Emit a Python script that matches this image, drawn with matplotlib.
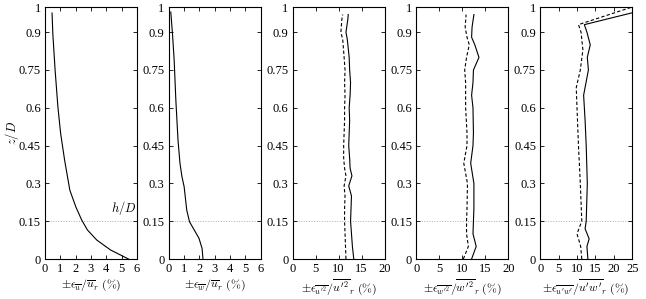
import matplotlib

matplotlib.use("Agg")
import matplotlib.pyplot as plt

plt.rcParams["font.family"] = ["Liberation Serif", "DejaVu Serif"]
plt.rcParams["mathtext.fontset"] = "cm"

# panel 1: mean u uncertainty
u_z = [0.0, 0.036, 0.075, 0.115, 0.155, 0.207, 0.273, 0.392, 0.498, 0.604, 0.749, 0.894, 0.976]
u_err = [5.44, 4.27, 3.38, 2.77, 2.39, 2.01, 1.62, 1.28, 1.02, 0.84, 0.66, 0.51, 0.46]

# panel 2: mean w uncertainty
w_z = [0.0, 0.042, 0.082, 0.115, 0.148, 0.194, 0.287, 0.326, 0.379, 0.472, 0.63, 0.789, 0.894, 0.98]
w_err = [2.23, 2.17, 1.97, 1.66, 1.35, 1.17, 1.0, 0.86, 0.73, 0.6, 0.46, 0.35, 0.24, 0.13]

# panel 3: u'^2
uu_z = [0.0, 0.05, 0.1, 0.15, 0.2, 0.25, 0.29, 0.33, 0.36, 0.4, 0.45, 0.5, 0.55, 0.6, 0.65, 0.7, 0.75, 0.8, 0.87, 0.9, 0.95, 0.97]
uu_solid = [13.3, 13.0, 12.8, 12.6, 12.7, 12.8, 12.2, 12.9, 12.5, 12.4, 12.2, 12.3, 12.4, 12.3, 12.5, 12.6, 12.4, 12.3, 11.9, 11.6, 12.0, 12.1]
uu_dash = [11.6, 11.5, 11.4, 11.3, 11.3, 11.4, 11.2, 11.6, 11.3, 11.1, 11.1, 11.2, 11.3, 11.3, 11.4, 11.3, 11.4, 11.2, 10.9, 10.5, 10.7, 10.9]

# panel 4: w'^2
ww_z = [0.0, 0.05, 0.1, 0.15, 0.2, 0.3, 0.38, 0.45, 0.5, 0.6, 0.65, 0.7, 0.75, 0.8, 0.85, 0.88, 0.92, 0.97]
ww_solid = [12.0, 13.0, 12.3, 12.4, 12.5, 12.5, 11.8, 12.3, 12.4, 12.3, 12.0, 12.3, 12.4, 13.6, 12.7, 12.0, 12.1, 12.5]
ww_dash = [10.2, 11.3, 10.9, 10.9, 11.0, 11.1, 10.3, 11.0, 11.0, 10.7, 10.7, 10.7, 10.5, 10.9, 11.5, 11.0, 10.6, 10.8]

# panel 5: u'w'
uw_z = [0.0, 0.05, 0.08, 0.12, 0.15, 0.3, 0.45, 0.55, 0.65, 0.75, 0.8, 0.85, 0.9, 0.93, 0.977]
uw_solid = [12.95, 12.7, 13.3, 12.2, 12.5, 12.8, 12.5, 12.2, 11.8, 13.1, 12.8, 13.6, 12.7, 12.0, 25.0]
uw_dash_z = [0.0, 0.05, 0.1, 0.15, 0.3, 0.45, 0.6, 0.68, 0.75, 0.83, 0.9, 0.93, 1.0]
uw_dash = [11.3, 11.0, 10.0, 11.3, 10.9, 10.4, 10.0, 9.8, 10.9, 11.6, 11.1, 10.4, 25.0]

H_D = 0.15
XLIMS = [6, 6, 20, 20, 25]
XTICKS = [range(0, 7), range(0, 7), range(0, 21, 5), range(0, 21, 5), range(0, 26, 5)]
XLABELS = [
    r"$\pm\epsilon_{\overline{u}}/\overline{u}_r\ (\%)$",
    r"$\pm\epsilon_{\overline{w}}/\overline{u}_r\ (\%)$",
    r"$\pm\epsilon_{\overline{u'^2}}/\overline{u'^2}_r\ (\%)$",
    r"$\pm\epsilon_{\overline{w'^2}}/\overline{w'^2}_r\ (\%)$",
    r"$\pm\epsilon_{\overline{u'w'}}/\overline{u'w'}_r\ (\%)$",
]
YTICKS = [0, 0.15, 0.3, 0.45, 0.6, 0.75, 0.9, 1]
YTICKLABELS = ["0", "0.15", "0.3", "0.45", "0.6", "0.75", "0.9", "1"]

fig = plt.figure(figsize=(6.46, 2.99), dpi=100)
axes = []
for i in range(5):
    left = (45 + i * 123.8) / 646
    ax = fig.add_axes([left, 40 / 299, 92 / 646, 252 / 299])
    axes.append(ax)

axes[0].plot(u_err, u_z, color="black", lw=0.8)
axes[1].plot(w_err, w_z, color="black", lw=0.8)
axes[2].plot(uu_solid, uu_z, color="black", lw=0.8)
axes[2].plot(uu_dash, uu_z, color="black", lw=0.8, ls=(0, (3, 2)))
axes[3].plot(ww_solid, ww_z, color="black", lw=0.8)
axes[3].plot(ww_dash, ww_z, color="black", lw=0.8, ls=(0, (3, 2)))
axes[4].plot(uw_solid, uw_z, color="black", lw=0.8)
axes[4].plot(uw_dash, uw_dash_z, color="black", lw=0.8, ls=(0, (3, 2)))

for i, ax in enumerate(axes):
    ax.axhline(H_D, color="#b0b0b0", lw=0.7, ls=":", zorder=0)
    ax.set_xlim(0, XLIMS[i])
    ax.set_ylim(0, 1)
    ax.set_xticks(list(XTICKS[i]))
    ax.set_yticks(YTICKS)
    ax.set_yticklabels(YTICKLABELS)
    ax.tick_params(direction="in", top=True, right=True, labelsize=9, length=3, width=0.6, pad=3)
    ax.set_xlabel(XLABELS[i], fontsize=8.5, labelpad=2)
    for s in ax.spines.values():
        s.set_linewidth(0.8)

axes[0].set_ylabel(r"$z/D$", fontsize=9)
axes[0].yaxis.set_label_coords(-0.26, 0.5)
axes[0].text(5.95, H_D + 0.015, r"$h/D$", ha="right", va="bottom", fontsize=9)

fig.savefig("out.png", dpi=100, facecolor="white")
